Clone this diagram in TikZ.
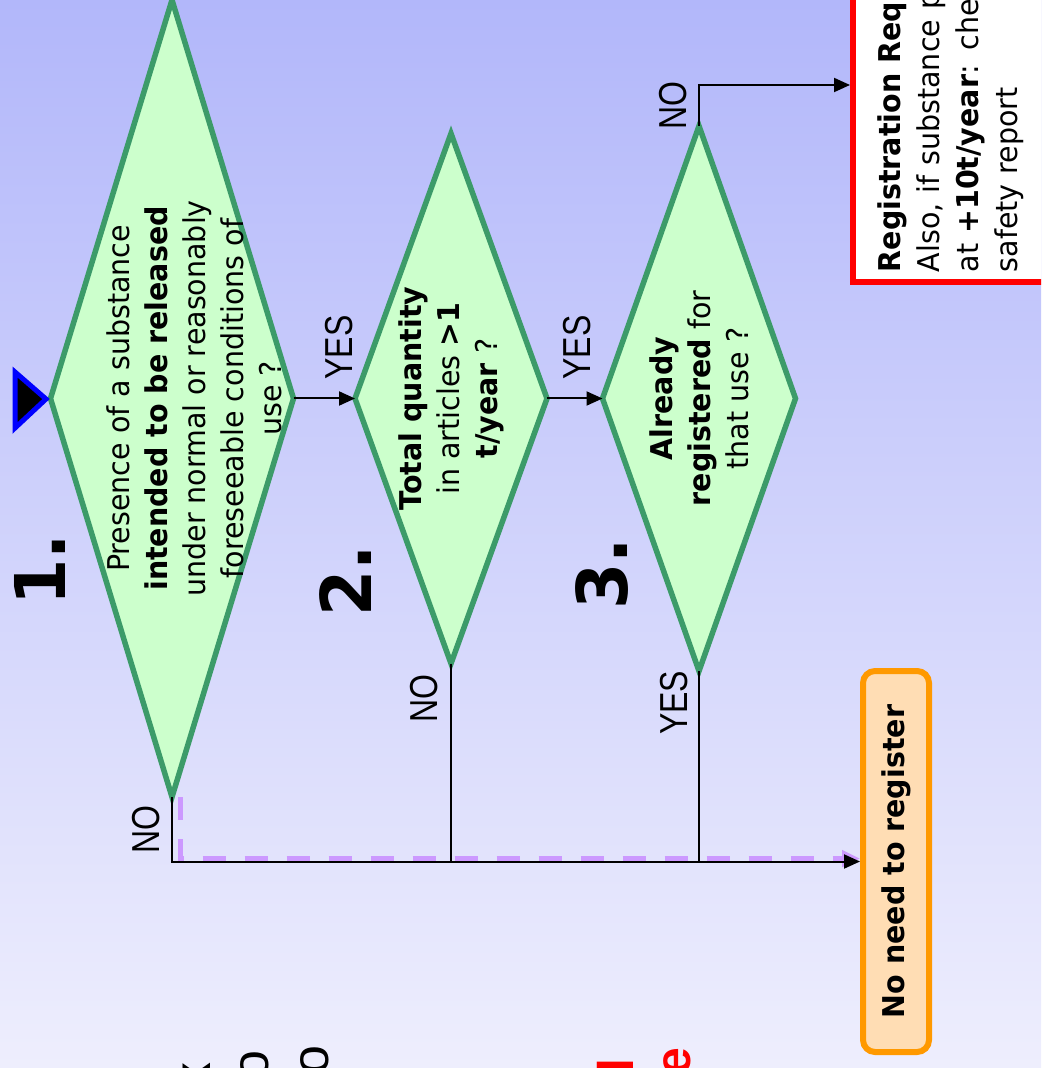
\documentclass[tikz,border=0pt]{standalone}
\usepackage{fontspec}
\setmainfont[FakeStretch=0.95]{DejaVu Sans}
\newfontfamily\yesnofont[FakeStretch=0.82]{Liberation Sans}
\newfontfamily\fragfont{Liberation Sans}
\usetikzlibrary{shapes.geometric,arrows.meta}
\definecolor{bgtop}{RGB}{178,183,250}
\definecolor{bgbottom}{RGB}{238,238,253}
\definecolor{qgreen}{RGB}{60,155,105}
\definecolor{qfill}{RGB}{204,255,204}
\definecolor{noorange}{RGB}{255,153,0}
\definecolor{nofill}{RGB}{255,221,180}
\definecolor{lilac}{RGB}{204,153,255}

\begin{document}
\begin{tikzpicture}[x=0.5pt,y=-0.5pt, decision/.style={diamond,draw=qgreen,fill=qfill,line width=2.75pt,inner sep=0pt,outer sep=0pt}, qtext/.style={rotate=90,align=center,inner sep=0pt,font=\fontsize{15}{19}\selectfont}, yesno/.style={rotate=90,inner sep=0pt,font=\yesnofont\fontsize{19.5}{20}\selectfont}, stepnum/.style={rotate=90,inner sep=0pt,font=\bfseries\fontsize{35}{35}\selectfont}, link/.style={draw,line width=1pt}, flow/.style={link,-{Triangle[length=8pt,width=7pt]}}, frag/.style={rotate=90,inner sep=0pt,anchor=base east,font=\fragfont\fontsize{26}{26}\selectfont}]
\useasboundingbox (0,0) rectangle (1041,1068);
\clip (0,0) rectangle (1041,1068);
\shade[top color=bgtop,bottom color=bgbottom] (0,0) rectangle (1041,1068);

% the three questions
\node[decision,minimum width=121.5pt,minimum height=398.5pt] (q1) at (172,398.5) {};
\node[decision,minimum width=96pt,minimum height=265pt] (q2) at (451,398.5) {};
\node[decision,minimum width=96.5pt,minimum height=272.5pt] (q3) at (699,398.5) {};
\node[qtext] (q1txt) at ([xshift=11pt]q1.center) {Presence of a substance\\ \textbf{intended to be released}\\ under normal or reasonably\\ foreseeable conditions of\\ use ?};
\node[qtext] (q2txt) at (q2.center) {\textbf{Total quantity}\\ in articles \textbf{>1}\\ \textbf{t/year} ?};
\node[qtext] (q3txt) at (q3.center) {\textbf{Already}\\ \textbf{registered} for\\ that use ?};
\node[stepnum] (n1) at (40,570) {1.};
\node[stepnum] (n2) at (346,581) {2.};
\node[stepnum] (n3) at (602,574) {3.};
\draw[fill=black,draw=blue,line width=2.5pt] (15,372) -- (46,399) -- (15,428) -- cycle;

% outcomes
\node[rotate=90,draw=red,fill=white,line width=2.75pt,anchor=north west,text width=400pt,minimum height=98pt,align=left,inner xsep=5pt,font=\fontsize{15}{19.5}\selectfont] (reg) at (850,285) {\textbf{Registration Required}\\ Also, if substance present\\ at \textbf{+10t/year}: chemical\\ safety report};
\node[rotate=90,draw=noorange,fill=nofill,line width=3pt,rounded corners=6pt,minimum width=190.5pt,minimum height=33pt,font=\bfseries\fontsize{15}{15}\selectfont] (noreg) at (896,861.5) {No need to register};

% connectors
\draw[lilac,line width=2.5pt,dash pattern=on 11.5pt off 9.5pt,-{Triangle[length=9pt,width=8pt]}] ([xshift=4pt]q1.south) |- ([yshift=1.5pt]noreg.north);
\draw[flow] (q1.east) -- node[yshift=9pt,yesno,pos=0.74,anchor=west] {YES} (q2.west);
\draw[flow] (q2.east) -- node[yshift=9pt,yesno,pos=0.55,anchor=west] {YES} (q3.west);
\draw[flow] (q3.north) |- node[xshift=-5.5pt,yesno,pos=0.25,anchor=south] {NO} ([yshift=100pt]reg.north west);
\draw[flow] (q1.south) |- node[xshift=-5.5pt,yesno,pos=0.25,anchor=south] {NO} (noreg.north);
\draw[link] (q2.south) -- node[xshift=-6pt,yshift=-5pt,yesno,pos=0,anchor=south east] {NO} (q2.south |- noreg.north);
\draw[link] (q3.south) -- node[xshift=-5pt,yshift=0.5pt,yesno,pos=0,anchor=south east] {YES} (q3.south |- noreg.north);

% cut off lines at the lower edge
\node[frag] (f1) at (210,1062) {x};
\node[frag] (f2) at (268,1050) {o};
\node[frag] (f3) at (328,1045) {o};
\node[frag,red,font=\fragfont\bfseries\fontsize{25}{25}\selectfont] (f4) at (633,1058) {l};
\node[frag,red,font=\fragfont\bfseries\fontsize{25}{25}\selectfont] (f5) at (690,1047) {e};
\end{tikzpicture}
\end{document}
